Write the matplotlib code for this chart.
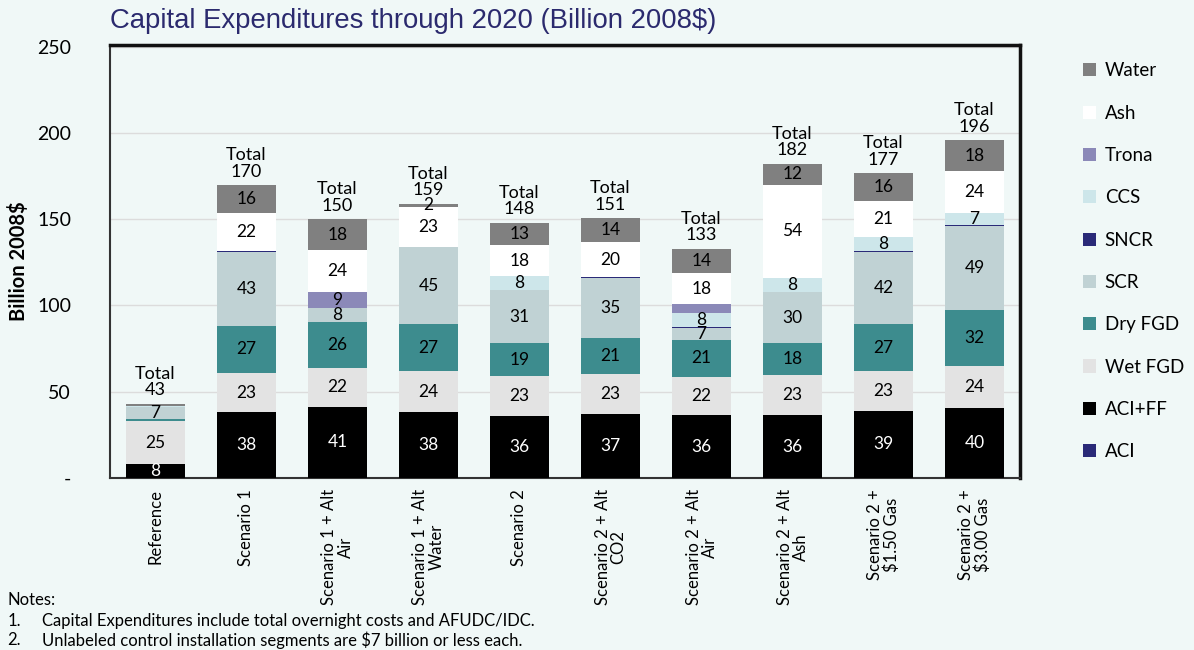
import numpy as np
import matplotlib.pyplot as plt

# categorias e valores (bilhões de 2008$)
cenarios = ['Reference', 'Scenario 1', 'Scenario 1 + Alt\nAir', 'Scenario 1 + Alt\nWater',
            'Scenario 2', 'Scenario 2 + Alt\nCO2', 'Scenario 2 + Alt\nAir', 'Scenario 2 + Alt\nAsh',
            'Scenario 2 +\n$1.50 Gas', 'Scenario 2 +\n$3.00 Gas']

aci = [0, 0, 0, 0, 0, 0, 0, 0, 0, 0]
aci_ff = [8, 38, 41.4, 38, 36, 37, 36.4, 36.4, 39, 40.4]
wet_fgd = [25, 23, 22.4, 24, 23, 23, 22.4, 23.3, 23, 24.4]
dry_fgd = [1, 27, 26.4, 27, 19, 21, 21, 18.3, 27, 32.4]
scr = [7, 43, 8.3, 45, 31, 35, 7, 30, 42, 49]
sncr = [0, 0.6, 0, 0, 0, 0.6, 0.6, 0, 0.6, 0.6]
ccs = [1, 0, 0, 0, 8, 0, 8, 8, 8, 7]
trona = [0, 0, 9.3, 0, 0, 0, 5.4, 0, 0, 0]
ash = [0, 22, 24.2, 23, 18, 20, 18, 54, 21, 24]
water = [1, 16, 18, 2, 13, 14, 14, 12, 16, 18]
totais = [43, 170, 150, 159, 148, 151, 133, 182, 177, 196]

series = [('ACI', aci, '#2a2a78'),
          ('ACI+FF', aci_ff, '#000000'),
          ('Wet FGD', wet_fgd, '#e3e3e3'),
          ('Dry FGD', dry_fgd, '#3d8c8e'),
          ('SCR', scr, '#c0d2d4'),
          ('SNCR', sncr, '#2a2a78'),
          ('CCS', ccs, '#cde6ea'),
          ('Trona', trona, '#8b89b8'),
          ('Ash', ash, '#ffffff'),
          ('Water', water, '#808080')]

fundo = '#f0f8f7'
fonte = 'Lato'

fig = plt.figure(figsize=(11.94, 6.5), dpi=100, facecolor=fundo)
ax = fig.add_axes([0.0921, 0.2646, 0.7622, 0.6662], facecolor=fundo)

x = np.arange(len(cenarios))
base = np.zeros(len(cenarios))
for nome, vals, cor in series:
    vals = np.array(vals, dtype=float)
    ax.bar(x, vals, 0.65, bottom=base, color=cor, label=nome, zorder=3)
    for i, v in enumerate(vals):
        if v >= 6.5 or (nome == 'Water' and v >= 1.5):
            cor_txt = 'white' if nome == 'ACI+FF' else 'black'
            ax.text(x[i], base[i] + v / 2, '%d' % round(v), ha='center', va='center',
                    fontsize=12.5, color=cor_txt, family=fonte, zorder=4)
    base += vals

for i, t in enumerate(totais):
    ax.text(x[i], base[i] + 3.2, 'Total\n%d' % t, ha='center', va='bottom',
            fontsize=13, family=fonte, linespacing=1.05, zorder=4)

ax.set_xlim(-0.5, len(cenarios) - 0.5)
ax.set_ylim(0, 251)
ax.set_yticks([0, 50, 100, 150, 200, 250])
ax.set_yticklabels(['-', '50', '100', '150', '200', '250'], fontsize=14, family=fonte)
ax.tick_params(axis='y', length=0, pad=28)
ax.tick_params(axis='x', length=0, pad=8)
ax.set_xticks(x)
ax.set_xticklabels(cenarios, rotation=90, fontsize=12, family=fonte, ha='center', va='top',
                   linespacing=1.0)
ax.grid(axis='y', color='#dcdcdc', linewidth=1, zorder=0)
ax.set_ylabel('Billion 2008$', fontsize=14.5, fontweight='bold', family=fonte, labelpad=6)

for lado in ['left', 'bottom']:
    ax.spines[lado].set_linewidth(1.5)
    ax.spines[lado].set_color('#333333')
for lado in ['top', 'right']:
    ax.spines[lado].set_linewidth(2.5)
    ax.spines[lado].set_color('#111111')

# legenda (ordem de cima para baixo)
h, l = ax.get_legend_handles_labels()
leg = fig.legend(h[::-1], l[::-1], loc='upper left', bbox_to_anchor=(0.893, 0.93),
                 frameon=False, handlelength=0.7, handleheight=0.7, labelspacing=1.35,
                 handletextpad=0.45, prop={'family': fonte, 'size': 13.5})

fig.text(0.0921, 0.968, 'Capital Expenditures through 2020 (Billion 2008$)', fontsize=19.8,
         color='#2b2a6e', family='Liberation Sans', va='center')

fig.text(0.006, 0.077, 'Notes:', fontsize=12, family=fonte, va='center')
fig.text(0.006, 0.045, '1.', fontsize=12, family=fonte, va='center')
fig.text(0.035, 0.045, 'Capital Expenditures include total overnight costs and AFUDC/IDC.',
         fontsize=12, family=fonte, va='center')
fig.text(0.006, 0.015, '2.', fontsize=12, family=fonte, va='center')
fig.text(0.035, 0.015, 'Unlabeled control installation segments are $7 billion or less each.',
         fontsize=12, family=fonte, va='center')

plt.savefig('out.png', dpi=100, facecolor=fundo)
